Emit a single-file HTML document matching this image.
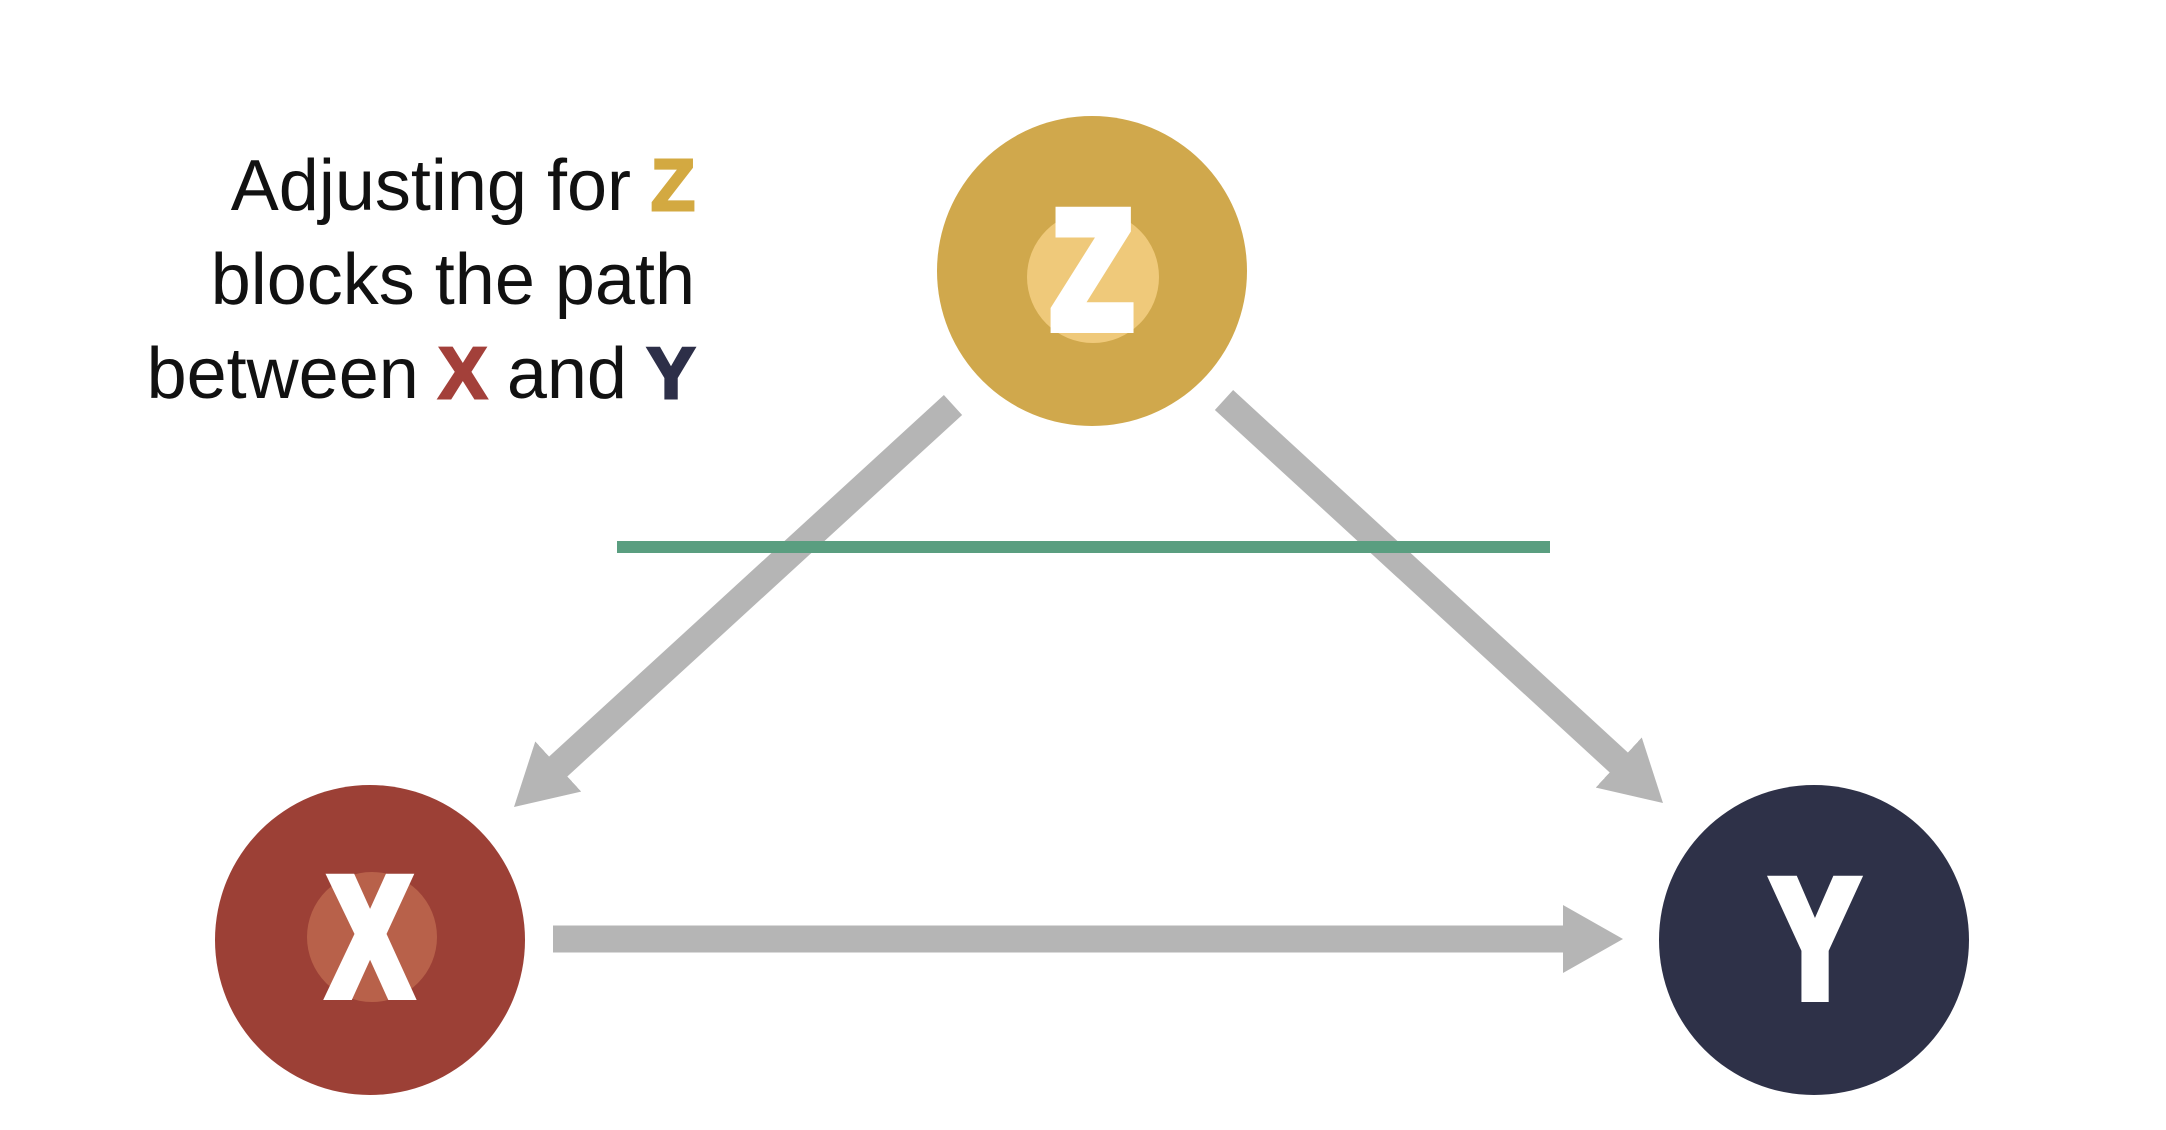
<!DOCTYPE html>
<html><head><meta charset="utf-8"><style>
html,body{margin:0;padding:0;background:#fff;}
svg{display:block;}
</style></head><body>
<svg width="2166" height="1130" viewBox="0 0 2166 1130" xmlns="http://www.w3.org/2000/svg">
<defs>
<marker id="ah" viewBox="0 0 60 68" refX="20" refY="34" markerWidth="60" markerHeight="68" markerUnits="userSpaceOnUse" orient="auto">
<path d="M0,0 L60,34 L0,68 z" fill="#b5b5b5"/>
</marker>
</defs>
<rect width="2166" height="1130" fill="#fff"/>
<g font-family="'Liberation Sans', sans-serif" font-size="72" text-anchor="end" fill="#111">
<text x="695" y="210">Adjusting for <tspan font-weight="bold" fill="#d3a941" stroke="#d3a941" stroke-width="3">Z</tspan></text>
<text x="695" y="304">blocks the path</text>
<text x="695" y="398">between <tspan font-weight="bold" fill="#a3403a" stroke="#a3403a" stroke-width="3">X</tspan> and <tspan font-weight="bold" fill="#2d2f48" stroke="#2d2f48" stroke-width="3">Y</tspan></text>
</g>
<g stroke="#b5b5b5" stroke-width="27" fill="none">
<line x1="953" y1="405" x2="543.5" y2="780" marker-end="url(#ah)"/>
<line x1="1224" y1="400" x2="1633.5" y2="776" marker-end="url(#ah)"/>
<line x1="553" y1="939" x2="1583" y2="939" marker-end="url(#ah)"/>
</g>
<line x1="617" y1="547" x2="1550" y2="547" stroke="#5a9e80" stroke-width="12"/>
<circle cx="1092" cy="271" r="155" fill="#d0a84c"/>
<circle cx="1093" cy="277" r="66" fill="#efc97a"/>
<circle cx="370" cy="940" r="155" fill="#9c4036"/>
<circle cx="372" cy="937" r="65" fill="#b8614a"/>
<circle cx="1814" cy="940" r="155" fill="#2e3148"/>
<g font-family="'Liberation Sans', sans-serif" font-weight="bold" font-size="166" fill="#fff" stroke="#fff" stroke-width="12" stroke-linejoin="miter" text-anchor="middle">
<text transform="translate(1092,327) scale(0.8,1)">Z</text>
<text transform="translate(370,994) scale(0.72,1)">X</text>
<text transform="translate(1815,996) scale(0.76,1)">Y</text>
</g>
</svg>
</body></html>
